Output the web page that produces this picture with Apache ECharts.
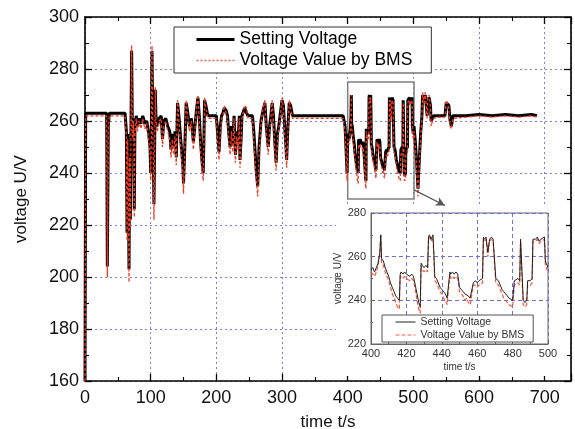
<!DOCTYPE html>
<html>
<head>
<meta charset="utf-8">
<script src="https://cdn.jsdelivr.net/npm/echarts@6/dist/echarts.min.js"></script>
<style>html,body{margin:0;padding:0;background:#fff}#c{width:575px;height:429px}</style>
</head>
<body>
<div id="c"></div>
<script>
// ---- data ----
const seriesNames = ['Setting Voltage', 'Voltage Value by BMS'];
const mainXRange = [0, 740];
const mainYRange = [160, 300];
const insetXRange = [400, 500];
const insetYRange = [220, 280];

// Setting voltage, 0-400 s
const setA = [[0,160],[1,263],[33,263],[34,204],[35.5,258],[37,263],[61,263],[62,263],[63,256],[64,217],[65,255],[66,238],[67,203],[68,248],[69,222],[70,258],[71,287],[72,259],[73,255],[74,261],[75,226],[76,257],[78,262],[80,258],[82,261],[85,259],[88,262],[91,259],[94,260],[97,255],[99,250],[100,240],[101,256],[102,287],[103,262],[104,248],[105,228],[106,250],[107,272],[108,262],[110,258],[113,261],[116,262],[118,253],[120,260],[123,261],[126,258],[129,256],[131,249],[133,255],[135,250],[137,256],[139,246],[141,267],[143,262],[146,252],[149,243],[150,236],[152,250],[154,267],[156,264],[159,258],[162,261],[165,252],[167,257],[170,265],[172,269],[174,262],[176,252],[178,245],[180,240],[181,252],[182,268],[184,266],[187,262],[190,262],[200,262],[202,255],[204,248],[206,258],[208,262],[210,263],[212,265],[215,264],[217,262],[219,255],[221,250],[223,258],[225,251],[227,262],[229,247],[231,256],[233,252],[235,262],[236,245],[238,255],[239,262],[243,265],[246,265],[248,262],[251,262],[255,262],[257,256],[259,248],[261,240],[263,235],[265,250],[268,260],[271,264],[274,267],[276,258],[279,250],[281,258],[283,262],[285,267],[287,262],[289,252],[291,244],[293,255],[295,258],[297,262],[300,268],[302,266],[304,258],[306,250],[307,245],[309,258],[311,267],[313,266],[316,262],[320,262],[340,262],[360,262],[380,262],[393,262],[396,258],[398,246],[399,240]];
// BMS voltage, 0-400 s
const bmsA = [[0,160],[1,262],[33,262],[34,200],[35.5,256],[37,262],[61,262],[62,262],[63,254],[64,214],[65,253],[66,235],[67,198],[68,246],[69,219],[70,256],[71,289],[72,257],[73,253],[74,260],[75,223],[76,255],[78,261],[80,256],[82,260],[85,257],[88,261],[91,257],[94,259],[97,253],[99,248],[100,237],[101,254],[102,289],[103,260],[104,245],[105,222],[106,248],[107,273],[108,260],[110,256],[113,260],[116,261],[118,250],[120,258],[123,260],[126,256],[129,253],[131,246],[133,253],[135,247],[137,254],[139,243],[141,268],[143,260],[146,249],[149,240],[150,232],[152,248],[154,268],[156,263],[159,256],[162,260],[165,249],[167,255],[170,266],[172,270],[174,260],[176,249],[178,242],[180,237],[181,250],[182,269],[184,265],[187,261],[190,261],[200,261],[202,253],[204,245],[206,256],[208,261],[210,262],[212,266],[215,263],[217,261],[219,252],[221,247],[223,256],[225,248],[227,261],[229,244],[231,254],[233,249],[235,261],[236,242],[238,253],[239,261],[243,266],[246,265],[248,261],[251,261],[255,261],[257,253],[259,245],[261,237],[263,231],[265,248],[268,259],[271,265],[274,268],[276,256],[279,247],[281,256],[283,261],[285,268],[287,260],[289,249],[291,241],[293,253],[295,257],[297,261],[300,269],[302,265],[304,256],[306,247],[307,242],[309,256],[311,268],[313,265],[316,261],[320,261],[340,261],[360,261],[380,261],[393,261],[396,256],[398,243],[399,237]];
// Setting voltage, 400-500 s (also the inset)
const setB = [[400,254],[401,255],[402,253],[403,255],[404,257],[405,262],[405.5,270],[406,259],[407,258],[408,255],[409,253],[410,251],[411,248],[412,246],[413,244],[414,242],[415,241],[416,240],[416.5,252],[417,253],[418,252],[419,253],[420,252],[421,252],[422,251],[423,252],[424,251],[425,247],[426,243],[427,239],[427.8,237],[428.3,257],[429,256],[430,255],[431,256],[432,255],[432.5,269],[433,270],[434,268],[435,270],[435.5,262],[436,251],[437,250],[438,248],[439,246],[440,245],[441,244],[442,243],[443,241],[444,241],[444.6,253],[445,252],[446,253],[447,252],[448,253],[449,252],[450,246],[451,245],[452,244],[453,243],[454,243],[455,242],[456,241],[457,241],[457.8,248],[459,249],[460,248],[461,249],[462,249],[463,250],[463.5,269],[464,268],[465,269],[466,262],[467,268],[468,269],[469,268],[470,268],[470.5,250],[472,249],[473,247],[474,245],[475,244],[476,243],[477,242],[478,241],[479,241],[480,240],[481,249],[482,249],[483,250],[484,249],[484.5,268],[485.5,268],[486,240],[487,239],[488,240],[488.5,249],[489,249],[490,249],[491,250],[491.5,268],[493,268],[494,269],[495,267],[496,268],[497,268],[498,269],[498.5,258],[499,257],[500,255]];
// BMS voltage, 400-500 s
const bmsB = [[400,253],[401,253],[402,251],[403,253],[404,256],[405,261],[405.5,270],[406,257],[407,256],[408,253],[409,251],[410,249],[411,246],[412,243],[413,241],[414,239],[415,237],[416,236],[416.5,251],[417,251],[418,250],[419,251],[420,250],[421,250],[422,249],[423,250],[424,249],[425,245],[426,240],[427,236],[427.8,234],[428.3,256],[429,254],[430,253],[431,254],[432,253],[432.5,268],[433,269],[434,267],[435,269],[435.5,260],[436,249],[437,248],[438,246],[439,244],[440,243],[441,241],[442,240],[443,238],[444,238],[444.6,252],[445,250],[446,251],[447,250],[448,251],[449,250],[450,244],[451,243],[452,242],[453,240],[454,241],[455,239],[456,238],[457,238],[457.8,247],[459,247],[460,246],[461,247],[462,247],[463,248],[463.5,268],[464,267],[465,268],[466,260],[467,267],[468,268],[469,267],[470,267],[470.5,248],[472,247],[473,245],[474,243],[475,241],[476,240],[477,239],[478,238],[479,238],[480,237],[481,247],[482,247],[483,248],[484,247],[484.5,267],[485.5,267],[486,238],[487,237],[488,238],[488.5,247],[489,247],[490,247],[491,248],[491.5,267],[493,267],[494,268],[495,266],[496,267],[497,267],[498,268],[498.5,256],[499,255],[500,253]];
// Setting voltage, 500-690 s
const setC = [[501,258],[503,252],[505,244],[507,234],[509,245],[511,255],[513,262],[514,270],[516,268],[518,270],[520,265],[521,262],[522,268],[524,269],[526,266],[527,260],[529,261],[531,262],[540,262],[548,262],[550,267],[552,267],[554,266],[556,260],[558,258],[560,262],[580,262],[600,262.5],[620,262],[640,262.5],[660,262],[680,262.5],[688,262]];
// BMS voltage, 500-690 s
const bmsC = [[501,256],[503,250],[505,241],[507,231],[509,243],[511,253],[513,261],[514,271],[516,267],[518,271],[520,264],[521,261],[522,269],[524,270],[526,265],[527,258],[529,260],[531,261],[540,261.5],[548,261.5],[550,268],[552,268],[554,265],[556,258],[558,257],[560,261],[580,261.5],[600,262],[620,261.5],[640,262],[660,261.5],[680,262],[688,261.5]];

// zoom box and arrow annotation (data coordinates)
const zoomBox = [[400,230],[501,275]];
const arrowPath = [[501,233.5],[548,227.5]];

// ---- chart ----
const FONT = 'Liberation Sans, Arial, Helvetica, sans-serif';
const setMain = setA.concat(setB, setC);
const bmsMain = bmsA.concat(bmsB, bmsC);

const chart = echarts.init(document.getElementById('c'), null, {renderer:'canvas'});

function mainAxisCommon(range, interval) {
  return {
    type:'value', min:range[0], max:range[1], interval:interval, gridIndex:0,
    axisLine:{show:true, onZero:false, lineStyle:{color:'#000', width:1.6}},
    axisTick:{show:true, inside:true, length:7, lineStyle:{color:'#000', width:1.3}},
    minorTick:{show:true, splitNumber:2, length:4, lineStyle:{color:'#000', width:1.1}},
    z:1
  };
}

const option = {
  animation:false,
  backgroundColor:'#fff',
  grid:[
    {left:85, right:4, top:17, bottom:48, containLabel:false, outerBoundsMode:'none'},
    {left:371, right:27, top:213, bottom:85, show:true, backgroundColor:'#fff', borderColor:'#666', borderWidth:1, z:14, containLabel:false, outerBoundsMode:'none'}
  ],
  graphic:[
    {type:'rect', shape:{x:336, y:207, width:230, height:169}, style:{fill:'#fff'}, z:12, silent:true}
  ],
  legend:[
    {
      data:[
        {name:seriesNames[0], lineStyle:{color:'#000', width:3, type:'solid'}, itemStyle:{opacity:0}},
        {name:seriesNames[1], lineStyle:{color:'#f06048', width:1.5, type:[2,2]}, itemStyle:{opacity:0}}
      ],
      orient:'vertical', left:174, top:27, itemWidth:38, itemHeight:10, itemGap:2,
      padding:[3,19,3,21], backgroundColor:'#fff', borderColor:'#333', borderWidth:1,
      textStyle:{fontSize:17.5, color:'#000', fontFamily:FONT, lineHeight:19},
      selectedMode:false, z:10
    },
    {
      data:[
        {name:seriesNames[0], lineStyle:{color:'#222', width:1, type:'solid'}, itemStyle:{opacity:0}},
        {name:seriesNames[1], lineStyle:{color:'#f06048', width:1, type:[4,2]}, itemStyle:{opacity:0}}
      ],
      orient:'vertical', left:382, top:315, itemWidth:20, itemHeight:8, itemGap:1,
      padding:[1,9,1,13], backgroundColor:'#fff', borderColor:'#555', borderWidth:1,
      textStyle:{fontSize:10.5, color:'#333', fontFamily:FONT, lineHeight:12},
      selectedMode:false, z:30
    }
  ],
  xAxis:[
    Object.assign(mainAxisCommon(mainXRange, 100), {
      position:'bottom',
      axisLabel:{show:true, margin:8, fontSize:18, color:'#111', fontFamily:FONT,
        formatter:function(v){return v % 100 === 0 ? String(v) : '';}},
      splitLine:{show:true, lineStyle:{color:'#7c7cdc', width:1, type:[2,3]}},
      name:'time t/s', nameLocation:'middle', nameGap:33,
      nameTextStyle:{fontSize:17, color:'#111', fontFamily:FONT}
    }),
    Object.assign(mainAxisCommon(mainXRange, 100), {
      position:'top', axisLabel:{show:false}, splitLine:{show:false}
    }),
    {
      type:'value', gridIndex:1, min:insetXRange[0], max:insetXRange[1], interval:20, position:'bottom',
      axisLine:{show:true, onZero:false, lineStyle:{color:'#666', width:1}},
      axisTick:{show:true, inside:true, length:4, lineStyle:{color:'#666'}},
      minorTick:{show:true, splitNumber:2, length:2, lineStyle:{color:'#666'}},
      axisLabel:{show:true, margin:4, fontSize:11, color:'#333', fontFamily:FONT},
      splitLine:{show:true, lineStyle:{color:'#6e6ee0', width:1, type:[4,3]}},
      name:'time t/s', nameLocation:'middle', nameGap:18,
      nameTextStyle:{fontSize:10, color:'#333', fontFamily:FONT},
      z:15
    }
  ],
  yAxis:[
    Object.assign(mainAxisCommon(mainYRange, 20), {
      position:'left',
      axisLabel:{show:true, margin:6, fontSize:18, color:'#111', fontFamily:FONT},
      splitLine:{show:true, lineStyle:{color:'#7c7cdc', width:1, type:[2,3]}},
      name:'voltage U/V', nameLocation:'middle', nameGap:55, nameRotate:90,
      nameTextStyle:{fontSize:17, color:'#111', fontFamily:FONT}
    }),
    Object.assign(mainAxisCommon(mainYRange, 20), {
      position:'right', axisLabel:{show:false}, splitLine:{show:false}
    }),
    {
      type:'value', gridIndex:1, min:insetYRange[0], max:insetYRange[1], interval:20, position:'left',
      axisLine:{show:true, onZero:false, lineStyle:{color:'#666', width:1}},
      axisTick:{show:true, inside:true, length:4, lineStyle:{color:'#666'}},
      minorTick:{show:true, splitNumber:2, length:2, lineStyle:{color:'#666'}},
      axisLabel:{show:true, margin:5, fontSize:11, color:'#333', fontFamily:FONT},
      splitLine:{show:true, lineStyle:{color:'#6e6ee0', width:1, type:[4,3]}},
      name:'voltage U/V', nameLocation:'middle', nameGap:28, nameRotate:90,
      nameTextStyle:{fontSize:10, color:'#333', fontFamily:FONT},
      z:15
    }
  ],
  series:[
    {
      name:seriesNames[0], type:'line', xAxisIndex:0, yAxisIndex:0, data:setMain,
      symbol:'none', lineStyle:{color:'#000', width:3}, itemStyle:{color:'#000'}, z:2,
      markArea:{silent:true, data:[[{coord:zoomBox[0]},{coord:zoomBox[1]}]],
        itemStyle:{color:'rgba(0,0,0,0)', borderColor:'#808080', borderWidth:1.5}, label:{show:false}},
      markLine:{silent:true, symbol:['none','arrow'], symbolSize:[7,9],
        data:[[{coord:arrowPath[0]},{coord:arrowPath[1]}]],
        lineStyle:{color:'#555', width:1.3, type:'solid'}, label:{show:false}}
    },
    {
      name:seriesNames[1], type:'line', xAxisIndex:0, yAxisIndex:0, data:bmsMain,
      symbol:'none', lineStyle:{color:'#f03a20', width:1.3, type:[3,2]}, itemStyle:{color:'#f03a20'}, z:3
    },
    {
      name:seriesNames[1], type:'line', xAxisIndex:2, yAxisIndex:2, data:bmsB,
      symbol:'none', lineStyle:{color:'#f05a40', width:1.2, type:[4,2]}, itemStyle:{color:'#f05a40'}, z:16
    },
    {
      name:seriesNames[0], type:'line', xAxisIndex:2, yAxisIndex:2, data:setB,
      symbol:'none', lineStyle:{color:'#222', width:1}, itemStyle:{color:'#222'}, z:17
    }
  ]
};
chart.setOption(option);
</script>
</body>
</html>
